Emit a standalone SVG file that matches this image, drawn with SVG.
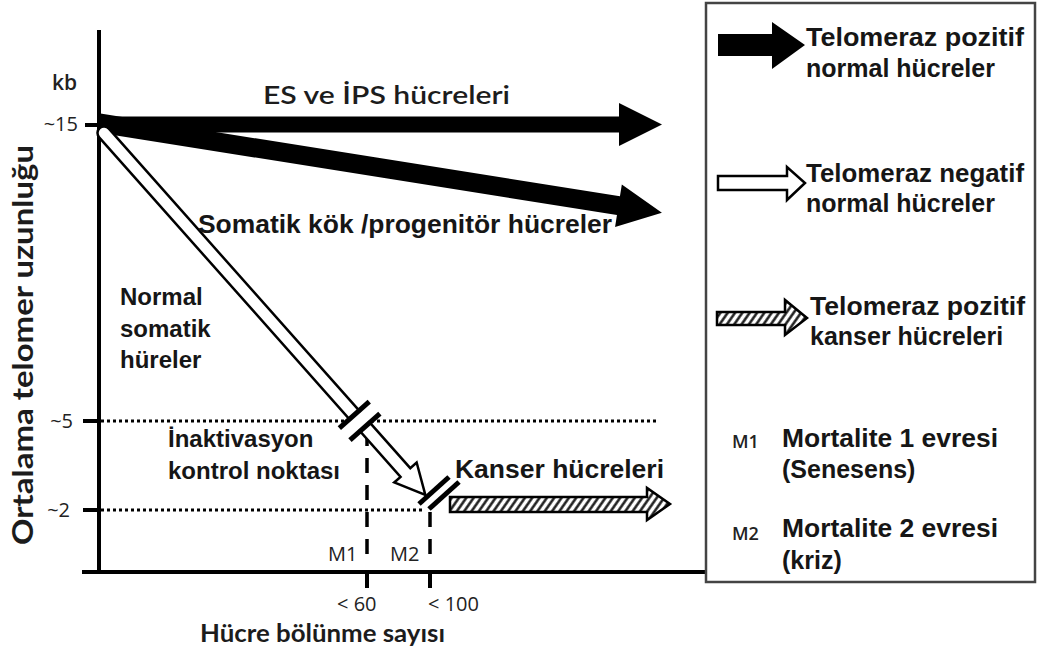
<svg xmlns="http://www.w3.org/2000/svg" width="1038" height="653" viewBox="0 0 1038 653">
  <defs>
    <pattern id="hatch" patternUnits="userSpaceOnUse" width="6" height="6" patternTransform="rotate(35)">
      <rect x="0" y="0" width="6" height="6" fill="#fff"/>
      <line x1="1.5" y1="0" x2="1.5" y2="6" stroke="#111" stroke-width="2.4"/>
    </pattern>
    <style>
      .lbl { font-family: "Liberation Sans", Arial, sans-serif; font-weight: bold; fill: #161616; }
      .cal { font-family: Lato, "Open Sans", sans-serif; fill: #1c1c1c; }
      .sm { font-family: "Open Sans", "Liberation Sans", sans-serif; fill: #222; }
      .axis { stroke: #000; stroke-width: 4; fill: none; }
      .dot { stroke: #000; stroke-width: 3; stroke-dasharray: 3 3; fill: none; }
      .dash { stroke: #000; stroke-width: 3.5; stroke-dasharray: 15 12; fill: none; }
      .brk { stroke: #000; stroke-width: 5; fill: none; }
      .blk { fill: #000; }
      .wht { fill: #fff; stroke: #000; stroke-width: 2.5; stroke-linejoin: miter; }
      .hat { fill: url(#hatch); stroke: #000; stroke-width: 2.5; }
    </style>
  </defs>
  <rect width="1038" height="653" fill="#fff"/>

  <g id="axes">
    <line class="axis" x1="99" y1="30" x2="99" y2="574"/>
    <line class="axis" x1="82" y1="572" x2="706" y2="572"/>
    <line class="axis" x1="85" y1="125" x2="99" y2="125"/>
    <line class="axis" x1="83" y1="421" x2="99" y2="421"/>
    <line class="axis" x1="83" y1="510" x2="99" y2="510"/>
    <line class="axis" x1="367" y1="572" x2="367" y2="588"/>
    <line class="axis" x1="430" y1="572" x2="430" y2="588"/>
    <text class="sm" x="52" y="90" font-size="21" font-weight="600">kb</text>
    <text class="sm" x="78" y="131" font-size="20" text-anchor="end">~15</text>
    <text class="sm" x="73" y="428" font-size="20" text-anchor="end">~5</text>
    <text class="sm" x="70" y="517" font-size="20" text-anchor="end">~2</text>
    <text class="cal" x="33" y="345" font-size="28" font-weight="bold" text-anchor="middle" transform="rotate(-90 33 345)" textLength="400" lengthAdjust="spacingAndGlyphs">Ortalama telomer uzunluğu</text>
    <text class="cal" x="200" y="642" font-size="25" font-weight="bold" textLength="245" lengthAdjust="spacingAndGlyphs">Hücre bölünme sayısı</text>
    <text class="sm" x="337" y="611" font-size="20">&lt; 60</text>
    <text class="sm" x="428" y="611" font-size="20">&lt; 100</text>
    <text class="sm" x="328" y="561" font-size="20">M1</text>
    <text class="sm" x="390" y="561" font-size="20">M2</text>
  </g>

  <g id="guides">
    <line class="dot" x1="101" y1="421" x2="658" y2="421"/>
    <line class="dot" x1="101" y1="510" x2="422" y2="510"/>
    <line class="dash" x1="367" y1="431" x2="367" y2="566"/>
    <line class="dash" x1="430" y1="512" x2="430" y2="566" stroke-dasharray="18 12"/>
  </g>

  <g id="connectors">
    <g id="arrow-es-ips">
      <path class="blk" d="M99,116.5 L619,116.5 L619,103 L662,124.5 L619,146 L619,132.5 L99,132.5 Z"/>
    </g>
    <g id="arrow-somatic-stem" transform="translate(99,123) rotate(9.05)">
      <path class="blk" d="M0,-9.5 L526,-9.5 L526,-21.5 L570,0 L526,21.5 L526,9.5 L0,9.5 Z"/>
    </g>
    <g id="arrow-normal-somatic" transform="translate(104,133) rotate(48.4)">
      <path class="wht" d="M0,-6.5 L454,-6.5 L454,-15 L484,0 L454,15 L454,6.5 L0,6.5 A6.5,6.5 0 0 1 0,-6.5 Z"/>
      <rect x="379" y="-9" width="12" height="18" fill="#fff"/>
      <line class="brk" x1="377" y1="-20" x2="377" y2="20"/>
      <line class="brk" x1="393" y1="-20" x2="393" y2="20"/>
    </g>
    <g id="arrow-cancer">
      <path class="hat" d="M450,497 L647,497 L647,488 L670,504 L647,520 L647,512 L450,512 Z"/>
      <line class="brk" x1="419" y1="504" x2="449" y2="477"/>
      <line class="brk" x1="429" y1="509" x2="459" y2="482"/>
    </g>
  </g>

  <g id="labels">
    <text class="cal" x="263" y="104" font-size="25" font-weight="600" textLength="247" lengthAdjust="spacingAndGlyphs">ES ve İPS hücreleri</text>
    <text class="lbl" x="198" y="233" font-size="25" textLength="414" lengthAdjust="spacingAndGlyphs">Somatik kök /progenitör hücreler</text>
    <text class="lbl" x="120" y="305" font-size="24">Normal</text>
    <text class="lbl" x="120" y="337" font-size="24">somatik</text>
    <text class="lbl" x="120" y="368" font-size="24">hüreler</text>
    <text class="lbl" x="168" y="447" font-size="24">İnaktivasyon</text>
    <text class="lbl" x="168" y="479" font-size="24">kontrol noktası</text>
    <text class="lbl" x="455" y="478" font-size="25" textLength="209" lengthAdjust="spacingAndGlyphs">Kanser hücreleri</text>
  </g>

  <g id="legend">
    <rect x="706" y="3" width="329" height="579" fill="#fff" stroke="#444" stroke-width="2.5"/>
    <g id="legend-positive-normal">
      <path class="blk" d="M718,34 L772,34 L772,22 L805,45 L772,69 L772,56 L718,56 Z"/>
      <text class="lbl" x="806" y="46" font-size="25" textLength="218" lengthAdjust="spacingAndGlyphs">Telomeraz pozitif</text>
      <text class="lbl" x="806" y="77" font-size="25">normal hücreler</text>
    </g>
    <g id="legend-negative-normal">
      <path class="wht" d="M718,176 L787,176 L787,167 L805,183 L787,200 L787,190 L718,190 Z"/>
      <text class="lbl" x="806" y="182" font-size="25" textLength="218" lengthAdjust="spacingAndGlyphs">Telomeraz negatif</text>
      <text class="lbl" x="806" y="212" font-size="25">normal hücreler</text>
    </g>
    <g id="legend-positive-cancer">
      <path class="hat" d="M717,312 L785,312 L785,300 L807,318 L785,335 L785,325 L717,325 Z"/>
      <text class="lbl" x="810" y="315" font-size="25" textLength="215" lengthAdjust="spacingAndGlyphs">Telomeraz pozitif</text>
      <text class="lbl" x="810" y="345" font-size="25">kanser hücreleri</text>
    </g>
    <g id="legend-m1">
      <text class="sm" x="732" y="448" font-size="18" font-weight="600" fill="#333">M1</text>
      <text class="lbl" x="782" y="447" font-size="25" textLength="216" lengthAdjust="spacingAndGlyphs">Mortalite 1 evresi</text>
      <text class="lbl" x="782" y="478" font-size="25">(Senesens)</text>
    </g>
    <g id="legend-m2">
      <text class="sm" x="732" y="540" font-size="18" font-weight="600" fill="#333">M2</text>
      <text class="lbl" x="782" y="537" font-size="25" textLength="216" lengthAdjust="spacingAndGlyphs">Mortalite 2 evresi</text>
      <text class="lbl" x="782" y="569" font-size="25">(kriz)</text>
    </g>
  </g>
</svg>
